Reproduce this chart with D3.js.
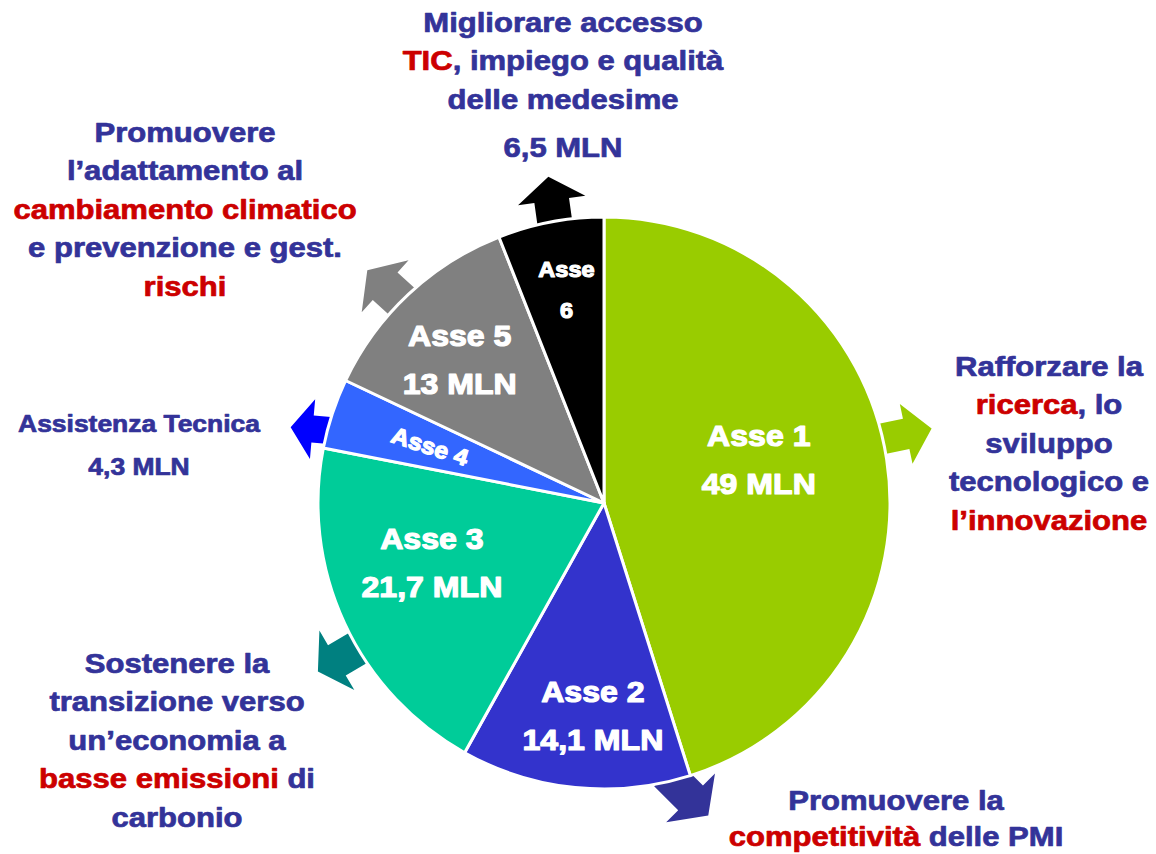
<!DOCTYPE html>
<html>
<head>
<meta charset="utf-8">
<script src="https://cdn.jsdelivr.net/npm/d3@7"></script>
<style>
  body { margin: 0; background: #fff; }
  svg text { font-family: "Liberation Sans", Arial, sans-serif; font-weight: bold; }
</style>
</head>
<body>
<svg id="chart" width="1156" height="854"></svg>
<script>
// Data
var axes = ["Asse 1", "Asse 2", "Asse 3", "Asse 4", "Asse 5", "Asse 6"]
var amounts = [49, 14.1, 21.7, 4.3, 13, 6.5]
var sliceLabels = [["Asse 1", "49 MLN"], ["Asse 2", "14,1 MLN"], ["Asse 3", "21,7 MLN"],
                   ["Asse 4"], ["Asse 5", "13 MLN"], ["Asse", "6"]]
var sliceColors = ["#99cc00", "#3333cc", "#00cc99", "#3366ff", "#808080", "#000000"]
var arrowColors = ["#99cc00", "#333399", "#008080", "#0000ff", "#808080", "#000000"]

// Outer captions: each line is a list of [text, isRed]
var captions = [
    { x: 563, y: 32, size: 27, lines: [
        [["Migliorare accesso", 0]],
        [["TIC", 1], [", impiego e qualità", 0]],
        [["delle medesime", 0]],
        [],
        [["6,5 MLN", 0]] ] },
    { x: 185, y: 142, size: 27, lines: [
        [["Promuovere", 0]],
        [["l’adattamento al", 0]],
        [["cambiamento climatico", 1]],
        [["e prevenzione e gest.", 0]],
        [["rischi", 1]] ] },
    { x: 139, y: 432, size: 23, step: 43, lines: [
        [["Assistenza Tecnica", 0]],
        [["4,3 MLN", 0]] ] },
    { x: 177, y: 673, size: 27, lines: [
        [["Sostenere la", 0]],
        [["transizione verso", 0]],
        [["un’economia a", 0]],
        [["basse emissioni", 1], [" di", 0]],
        [["carbonio", 0]] ] },
    { x: 896, y: 810, size: 27, step: 36, lines: [
        [["Promuovere la", 0]],
        [["competitività", 1], [" delle PMI", 0]] ] },
    { x: 1049, y: 376, size: 27, lines: [
        [["Rafforzare la", 0]],
        [["ricerca", 1], [", lo", 0]],
        [["sviluppo", 0]],
        [["tecnologico e", 0]],
        [["l’innovazione", 1]] ] }
]

// Layout: label position (angle deg, radius), arrow geometry
var labelPos = [[74, 161], [183, 212], [251, 182], [288, 183], [315, 204], [350, 216]]
var arrowGeo = [
    // anchor angle, direction, length, shaft width, head width, head length
    [77, 78, 50, 31, 61, 26],
    [167, 135, 51, 35, 69, 25],
    [239.5, 239.6, 46, 35, 69, 22],
    [285, 275, 37, 27, 60, 22],
    [315, 312, 46, 37, 70, 24],
    [350, 352, 45, 35, 68, 24]
]

var cx = 604, cy = 503, R = 286
var rad = Math.PI / 180
var svg = d3.select("#chart")

var pie = d3.pie().sort(null).value(d => d)
var arcs = pie(amounts)
var arc = d3.arc().innerRadius(0).outerRadius(R)

var g = svg.append("g").attr("transform", `translate(${cx},${cy})`)

// arrows behind the pie
var inset = 8
g.selectAll("path.arrow")
    .data(arrowGeo)
    .enter().append("path")
    .attr("class", "arrow")
    .attr("fill", (d, i) => arrowColors[i])
    .attr("d", d => {
        var L = d[2] + inset, sw = d[3] / 2, hw = d[4] / 2, hl = d[5]
        return d3.line()([[0, -sw], [L - hl, -sw], [L - hl, -hw], [L, 0],
                          [L - hl, hw], [L - hl, sw], [0, sw]]) + "Z"
    })
    .attr("transform", d => {
        var r0 = R - inset
        var x = r0 * Math.sin(d[0] * rad), y = -r0 * Math.cos(d[0] * rad)
        return `translate(${x},${y}) rotate(${d[1] - 90})`
    })

// slices
g.selectAll("path.slice")
    .data(arcs)
    .enter().append("path")
    .attr("class", "slice")
    .attr("d", arc)
    .attr("fill", (d, i) => sliceColors[i])
    .attr("stroke", "#fff")
    .attr("stroke-width", 3)
    .attr("stroke-linejoin", "round")

// slice labels
arcs.forEach((a, i) => {
    var p = labelPos[i]
    var x = p[1] * Math.sin(p[0] * rad), y = -p[1] * Math.cos(p[0] * rad)
    var size = 30, step = 48, first = -13, rot = 0
    if (i == 3) { size = 23; rot = p[0] - 270; first = 8 }
    if (i == 5) { size = 22; step = 41; first = -13 }
    var lg = g.append("g")
        .attr("transform", `translate(${x},${y}) rotate(${rot}) scale(1.07,1)`)
    sliceLabels[i].forEach((t, j) => {
        lg.append("text")
            .attr("y", first + j * step)
            .attr("text-anchor", "middle")
            .attr("font-size", size)
            .attr("fill", "#fff")
            .attr("stroke", "#fff")
            .attr("stroke-width", 1.2)
            .attr("stroke-linejoin", "round")
            .text(t)
    })
})

// outer captions
captions.forEach(c => {
    var cg = svg.append("g")
        .attr("transform", `translate(${c.x},${c.y}) scale(1.15,1)`)
    var step = c.step || 38.5
    c.lines.forEach((line, j) => {
        if (line.length == 0) return
        var t = cg.append("text")
            .attr("y", j == 4 && c.lines[3].length == 0 ? 3 * step + 10 : j * step)
            .attr("text-anchor", "middle")
            .attr("font-size", c.size)
            .attr("stroke-width", 0.7)
            .attr("stroke-linejoin", "round")
        line.forEach(seg => {
            var col = seg[1] ? "#cc0000" : "#333399"
            t.append("tspan")
                .attr("fill", col)
                .attr("stroke", col)
                .text(seg[0])
        })
    })
})
</script>
</body>
</html>
